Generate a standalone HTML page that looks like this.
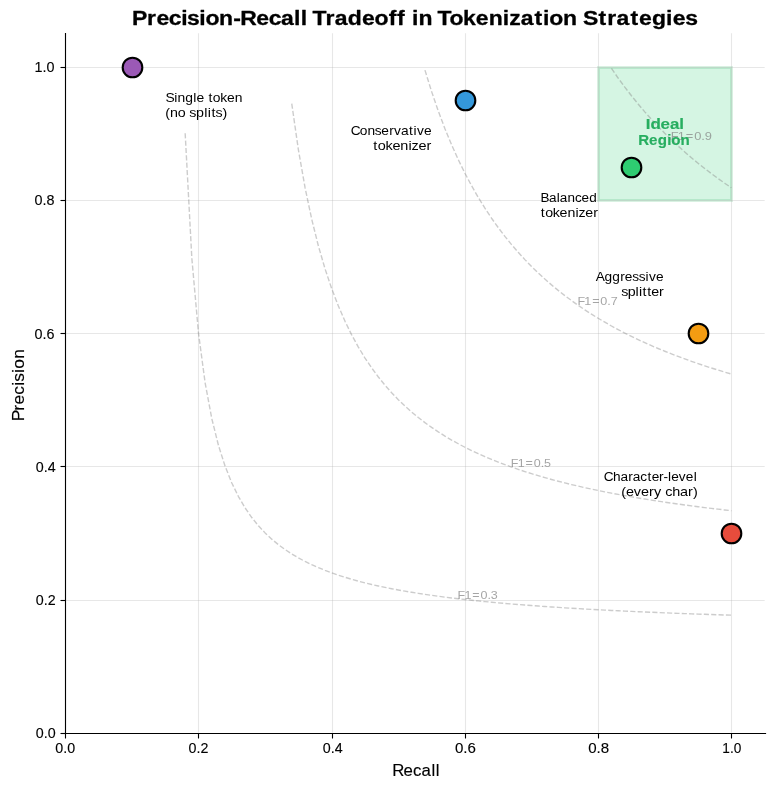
<!DOCTYPE html>
<html lang="en"><head><meta charset="utf-8"><title>Precision-Recall Tradeoff in Tokenization Strategies</title>
<style>
html,body{margin:0;padding:0;background:#ffffff;}
body{width:774px;height:790px;overflow:hidden;font-family:"Liberation Sans",sans-serif;}
svg{will-change:transform;}
svg text{font-family:"Liberation Sans",sans-serif;white-space:pre;}
</style></head><body>
<svg width="774" height="790" viewBox="0 0 774 790" style="display:block;font-family:'Liberation Sans',sans-serif">
<rect x="0" y="0" width="774" height="790" fill="#ffffff"/>
<rect x="598.50" y="67.50" width="133.00" height="133.00" fill="#2ecc71" fill-opacity="0.2" stroke="#27ae60" stroke-opacity="0.2" stroke-width="2.778" stroke-linejoin="miter"/>
<g stroke="#b0b0b0" stroke-opacity="0.3" stroke-width="1.111" fill="none">
<line x1="65.5" y1="33.33" x2="65.5" y2="732.72"/>
<line x1="198.5" y1="33.33" x2="198.5" y2="732.72"/>
<line x1="332.5" y1="33.33" x2="332.5" y2="732.72"/>
<line x1="465.5" y1="33.33" x2="465.5" y2="732.72"/>
<line x1="598.5" y1="33.33" x2="598.5" y2="732.72"/>
<line x1="731.5" y1="33.33" x2="731.5" y2="732.72"/>
<line x1="65.28" y1="733.5" x2="764.67" y2="733.5"/>
<line x1="65.28" y1="600.5" x2="764.67" y2="600.5"/>
<line x1="65.28" y1="466.5" x2="764.67" y2="466.5"/>
<line x1="65.28" y1="333.5" x2="764.67" y2="333.5"/>
<line x1="65.28" y1="200.5" x2="764.67" y2="200.5"/>
<line x1="65.28" y1="67.5" x2="764.67" y2="67.5"/>
</g>
<g stroke="#808080" stroke-opacity="0.4" stroke-width="1.389" fill="none" stroke-dasharray="5.139 2.222" stroke-linecap="butt" stroke-linejoin="round">
<path d="M185.17 133.25 L191.83 258.14 L198.49 333.07 L205.16 383.03 L211.82 418.71 L218.48 445.47 L225.14 466.29 L231.80 482.94 L238.46 496.56 L245.12 507.92 L251.78 517.53 L258.44 525.76 L265.10 532.90 L271.76 539.14 L278.42 544.65 L285.09 549.55 L291.75 553.93 L298.41 557.88 L305.07 561.44 L311.73 564.69 L318.39 567.65 L325.05 570.36 L331.71 572.86 L338.37 575.17 L345.03 577.30 L351.69 579.28 L358.36 581.13 L365.02 582.85 L371.68 584.46 L378.34 585.98 L385.00 587.39 L391.66 588.73 L398.32 589.99 L404.98 591.18 L411.64 592.30 L418.30 593.37 L424.96 594.38 L431.62 595.34 L438.29 596.26 L444.95 597.13 L451.61 597.96 L458.27 598.75 L464.93 599.51 L471.59 600.23 L478.25 600.92 L484.91 601.59 L491.57 602.22 L498.23 602.84 L504.89 603.42 L511.55 603.99 L518.22 604.53 L524.88 605.06 L531.54 605.56 L538.20 606.05 L544.86 606.52 L551.52 606.97 L558.18 607.41 L564.84 607.83 L571.50 608.24 L578.16 608.64 L584.82 609.02 L591.48 609.39 L598.15 609.75 L604.81 610.10 L611.47 610.44 L618.13 610.77 L624.79 611.09 L631.45 611.40 L638.11 611.70 L644.77 611.99 L651.43 612.28 L658.09 612.56 L664.75 612.83 L671.41 613.09 L678.08 613.35 L684.74 613.60 L691.40 613.84 L698.06 614.08 L704.72 614.31 L711.38 614.53 L718.04 614.75 L724.70 614.97 L731.36 615.18"/>
<path d="M291.75 103.64 L298.41 149.90 L305.07 187.74 L311.73 219.28 L318.39 245.97 L325.05 268.84 L331.71 288.67 L338.37 306.01 L345.03 321.32 L351.69 334.92 L358.36 347.09 L365.02 358.05 L371.68 367.96 L378.34 376.97 L385.00 385.20 L391.66 392.74 L398.32 399.68 L404.98 406.08 L411.64 412.01 L418.30 417.52 L424.96 422.65 L431.62 427.43 L438.29 431.91 L444.95 436.11 L451.61 440.05 L458.27 443.76 L464.93 447.26 L471.59 450.56 L478.25 453.69 L484.91 456.65 L491.57 459.46 L498.23 462.13 L504.89 464.66 L511.55 467.08 L518.22 469.39 L524.88 471.59 L531.54 473.69 L538.20 475.70 L544.86 477.63 L551.52 479.47 L558.18 481.24 L564.84 482.94 L571.50 484.57 L578.16 486.14 L584.82 487.65 L591.48 489.11 L598.15 490.51 L604.81 491.86 L611.47 493.17 L618.13 494.42 L624.79 495.64 L631.45 496.82 L638.11 497.95 L644.77 499.06 L651.43 500.12 L658.09 501.15 L664.75 502.15 L671.41 503.12 L678.08 504.07 L684.74 504.98 L691.40 505.87 L698.06 506.73 L704.72 507.57 L711.38 508.38 L718.04 509.17 L724.70 509.94 L731.36 510.69"/>
<path d="M424.96 70.14 L431.62 91.62 L438.29 111.04 L444.95 128.70 L451.61 144.83 L458.27 159.61 L464.93 173.21 L471.59 185.76 L478.25 197.39 L484.91 208.18 L491.57 218.23 L498.23 227.61 L504.89 236.38 L511.55 244.61 L518.22 252.33 L524.88 259.61 L531.54 266.46 L538.20 272.94 L544.86 279.06 L551.52 284.87 L558.18 290.37 L564.84 295.60 L571.50 300.58 L578.16 305.32 L584.82 309.84 L591.48 314.15 L598.15 318.27 L604.81 322.21 L611.47 325.99 L618.13 329.60 L624.79 333.07 L631.45 336.40 L638.11 339.60 L644.77 342.68 L651.43 345.64 L658.09 348.49 L664.75 351.24 L671.41 353.89 L678.08 356.44 L684.74 358.91 L691.40 361.30 L698.06 363.60 L704.72 365.83 L711.38 367.99 L718.04 370.08 L724.70 372.10 L731.36 374.06"/>
<path d="M611.47 68.44 L618.13 78.03 L624.79 87.13 L631.45 95.78 L638.11 104.00 L644.77 111.84 L651.43 119.30 L658.09 126.43 L664.75 133.25 L671.41 139.76 L678.08 146.00 L684.74 151.98 L691.40 157.71 L698.06 163.22 L704.72 168.51 L711.38 173.60 L718.04 178.49 L724.70 183.20 L731.36 187.74"/>
</g>
<g stroke="#000000" stroke-width="1.111" fill="none" stroke-linecap="butt">
<line x1="65.5" y1="733.5" x2="65.5" y2="738.50"/>
<line x1="65.5" y1="733.5" x2="60.50" y2="733.5"/>
<line x1="198.5" y1="733.5" x2="198.5" y2="738.50"/>
<line x1="65.5" y1="600.5" x2="60.50" y2="600.5"/>
<line x1="332.5" y1="733.5" x2="332.5" y2="738.50"/>
<line x1="65.5" y1="466.5" x2="60.50" y2="466.5"/>
<line x1="465.5" y1="733.5" x2="465.5" y2="738.50"/>
<line x1="65.5" y1="333.5" x2="60.50" y2="333.5"/>
<line x1="598.5" y1="733.5" x2="598.5" y2="738.50"/>
<line x1="65.5" y1="200.5" x2="60.50" y2="200.5"/>
<line x1="731.5" y1="733.5" x2="731.5" y2="738.50"/>
<line x1="65.5" y1="67.5" x2="60.50" y2="67.5"/>
<path d="M65.5 32.90 L65.5 734.05" />
<path d="M64.95 733.5 L766.10 733.5" />
</g>
<text transform="translate(458.27 598.75) scale(1.0796 1)" x="-0.66 5.75 12.99 20.56 26.97 30.10" y="0" font-size="11.61" fill="#808080" opacity="0.7">F1=0.3</text>
<text transform="translate(511.55 467.08) scale(1.0796 1)" x="-0.66 5.75 12.99 20.56 26.97 30.10" y="0" font-size="11.61" fill="#808080" opacity="0.7">F1=0.5</text>
<text transform="translate(578.16 305.32) scale(1.0830 1)" x="-0.66 5.72 12.94 20.49 26.88 30.05" y="0" font-size="11.61" fill="#808080" opacity="0.7">F1=0.7</text>
<text transform="translate(671.41 139.76) scale(1.1104 1)" x="-0.66 5.72 12.94 20.49 26.88 30.05" y="0" font-size="11.61" fill="#808080" opacity="0.7">F1=0.9</text>
<text transform="translate(166.19 101.60) scale(1.0640 1)" x="-0.68 7.52 10.62 17.98 25.45 28.45 35.68 39.79 43.80 50.84 57.16 64.50" y="0" font-size="13.06" fill="#000000">Single token</text>
<text transform="translate(165.19 116.60) scale(1.0950 1)" x="0.05 4.44 11.55 18.67 22.01 28.24 35.63 38.80 42.26 46.02 52.26" y="0" font-size="13.06" fill="#000000">(no splits)</text>
<text transform="translate(351.37 134.91) scale(1.0527 1)" x="-0.67 8.00 15.22 22.27 28.49 35.89 40.61 47.22 54.86 59.10 62.33 68.99" y="0" font-size="13.06" fill="#000000">Conservative</text>
<text transform="translate(372.87 149.91) scale(1.1084 1)" x="0.43 4.38 11.34 17.60 24.76 32.17 34.96 41.14 48.48" y="0" font-size="13.06" fill="#000000">tokenizer</text>
<text transform="translate(540.90 201.52) scale(1.0327 1)" x="-0.35 7.97 15.35 18.38 25.66 32.95 39.39 46.91" y="0" font-size="13.06" fill="#000000">Balanced</text>
<text transform="translate(540.40 216.52) scale(1.0896 1)" x="0.43 4.38 11.34 17.60 24.76 32.17 34.96 41.14 48.48" y="0" font-size="13.06" fill="#000000">tokenizer</text>
<text transform="translate(596.00 281.45) scale(1.0485 1)" x="-0.34 8.13 15.59 23.08 27.53 34.57 40.69 47.20 50.49 57.29" y="0" font-size="13.06" fill="#000000">Aggressive</text>
<text transform="translate(621.75 296.45) scale(1.0917 1)" x="-0.42 5.53 12.70 15.74 19.03 23.32 27.01 34.06" y="0" font-size="13.06" fill="#000000">splitter</text>
<text transform="translate(604.43 481.27) scale(1.0458 1)" x="-0.67 8.12 15.34 22.72 27.19 34.29 41.19 45.20 52.26 56.38 60.80 63.79 71.14 77.76 85.31" y="0" font-size="13.06" fill="#000000">Character-level</text>
<text transform="translate(621.18 496.27) scale(1.1032 1)" x="0.04 4.27 11.48 17.95 25.22 29.81 36.42 39.88 46.22 53.28 60.54 65.19" y="0" font-size="13.06" fill="#000000">(every char)</text>
<text transform="translate(645.44 129.15) scale(1.1678 1)" x="0.19 4.24 12.92 20.96 29.02" y="0" font-size="14.51" fill="#27ae60" font-weight="700" stroke="#27ae60" stroke-width="0.15" stroke-linejoin="round">Ideal</text>
<text transform="translate(638.63 145.35) scale(1.0420 1)" x="-0.40 9.92 18.29 27.36 31.42 40.25" y="0" font-size="14.51" fill="#27ae60" font-weight="700" stroke="#27ae60" stroke-width="0.15" stroke-linejoin="round">Region</text>
<text transform="translate(393.16 776.00) scale(0.9634 1)" x="-1.02 10.68 20.61 29.55 39.68 44.20" y="0" font-size="17.42" fill="#000000" stroke="#000000" stroke-width="0.15" stroke-linejoin="round">Recall</text>
<text transform="translate(24.00 420.22) rotate(-90) scale(0.9964 1)" x="-1.10 9.63 15.72 25.54 34.58 38.56 47.37 51.59 61.64" y="0" font-size="17.42" fill="#000000" stroke="#000000" stroke-width="0.15" stroke-linejoin="round">Precision</text>
<text transform="translate(132.47 25.00) scale(1.1304 1)" x="-0.48 12.88 21.26 32.18 43.05 48.28 59.17 64.64 76.66 89.17 95.40 109.54 120.46 131.36 142.93 148.82 154.76 159.30 170.71 179.06 190.45 202.99 214.17 226.64 234.12 241.41 247.35 253.03 265.52 269.84 280.45 292.40 303.73 315.12 327.57 333.26 343.49 355.67 363.28 368.75 380.78 393.27 398.50 412.19 419.97 428.31 440.49 448.16 459.58 472.07 478.01 489.01" y="0" font-size="20.32" fill="#000000" font-weight="700" stroke="#000000" stroke-width="0.3" stroke-linejoin="round">Precision-Recall Tradeoff in Tokenization Strategies</text>
<text transform="translate(55.34 753.44) scale(0.9851 1)" x="0.04 8.16 12.16" y="0" font-size="14.51" fill="#000000" stroke="#000000" stroke-width="0.12" stroke-linejoin="round">0.0</text>
<text transform="translate(188.56 753.44) scale(0.9851 1)" x="0.04 8.16 12.16" y="0" font-size="14.51" fill="#000000" stroke="#000000" stroke-width="0.12" stroke-linejoin="round">0.2</text>
<text transform="translate(322.77 753.44) scale(0.9851 1)" x="0.04 8.16 12.16" y="0" font-size="14.51" fill="#000000" stroke="#000000" stroke-width="0.12" stroke-linejoin="round">0.4</text>
<text transform="translate(454.93 753.44) scale(1.0408 1)" x="0.01 8.10 12.12" y="0" font-size="14.51" fill="#000000" stroke="#000000" stroke-width="0.12" stroke-linejoin="round">0.6</text>
<text transform="translate(588.15 753.44) scale(1.0408 1)" x="0.01 8.10 12.12" y="0" font-size="14.51" fill="#000000" stroke="#000000" stroke-width="0.12" stroke-linejoin="round">0.8</text>
<text transform="translate(722.36 753.44) scale(0.9417 1)" x="0.01 8.10 12.12" y="0" font-size="14.51" fill="#000000" stroke="#000000" stroke-width="0.12" stroke-linejoin="round">1.0</text>
<text transform="translate(35.68 738.22) scale(0.9851 1)" x="0.04 8.16 12.16" y="0" font-size="14.51" fill="#000000" stroke="#000000" stroke-width="0.12" stroke-linejoin="round">0.0</text>
<text transform="translate(35.68 605.01) scale(0.9851 1)" x="0.04 8.16 12.16" y="0" font-size="14.51" fill="#000000" stroke="#000000" stroke-width="0.12" stroke-linejoin="round">0.2</text>
<text transform="translate(35.68 471.79) scale(0.9851 1)" x="0.04 8.16 12.16" y="0" font-size="14.51" fill="#000000" stroke="#000000" stroke-width="0.12" stroke-linejoin="round">0.4</text>
<text transform="translate(34.56 338.57) scale(0.9913 1)" x="0.01 8.10 12.12" y="0" font-size="14.51" fill="#000000" stroke="#000000" stroke-width="0.12" stroke-linejoin="round">0.6</text>
<text transform="translate(34.56 205.35) scale(0.9913 1)" x="0.01 8.10 12.12" y="0" font-size="14.51" fill="#000000" stroke="#000000" stroke-width="0.12" stroke-linejoin="round">0.8</text>
<text transform="translate(34.56 72.14) scale(0.9913 1)" x="0.01 8.10 12.12" y="0" font-size="14.51" fill="#000000" stroke="#000000" stroke-width="0.12" stroke-linejoin="round">1.0</text>
<circle cx="132.50" cy="67.50" r="9.821" fill="#9b59b6" stroke="#000000" stroke-width="2.083"/>
<circle cx="465.50" cy="100.50" r="9.821" fill="#3498db" stroke="#000000" stroke-width="2.083"/>
<circle cx="631.50" cy="167.50" r="9.821" fill="#2ecc71" stroke="#000000" stroke-width="2.083"/>
<circle cx="698.50" cy="333.50" r="9.821" fill="#f39c12" stroke="#000000" stroke-width="2.083"/>
<circle cx="731.50" cy="533.50" r="9.821" fill="#e74c3c" stroke="#000000" stroke-width="2.083"/>
</svg>
</body></html>
